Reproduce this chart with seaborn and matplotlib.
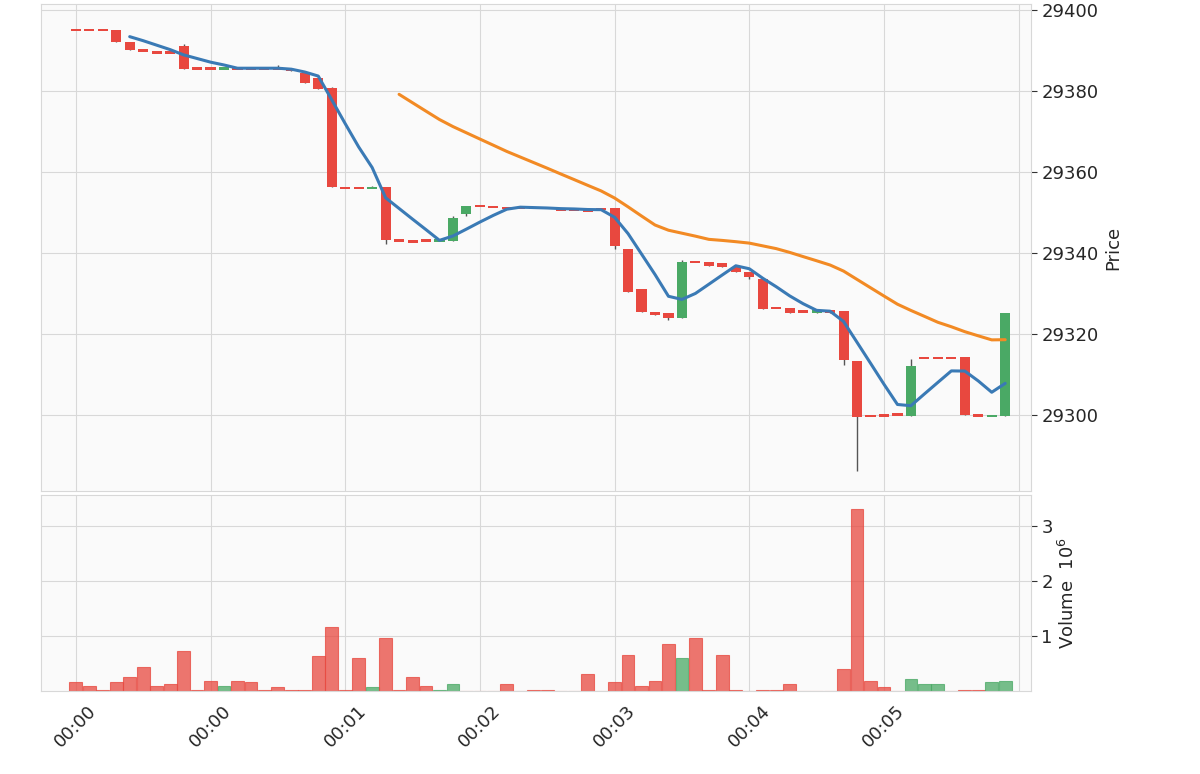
import numpy as np
import pandas as pd
import matplotlib
matplotlib.use("Agg")
import matplotlib.pyplot as plt
import seaborn as sns


# ------------------------------------------------------
# data: 5-second candles
# ------------------------------------------------------
opens = [29395, 29395, 29395, 29395, 29392, 29390, 29389.5, 29389.5, 29391, 29385.5,
         29385.5, 29385.5, 29385.5, 29385.5, 29385.5, 29385.5, 29385.5, 29384.3, 29383.2, 29380.8,
         29356, 29356, 29356, 29356.2, 29343, 29343.2, 29343, 29343, 29343, 29349.5,
         29351.5, 29351.3, 29351, 29351, 29351, 29351, 29351, 29350.6, 29350.8, 29350.8,
         29351, 29341, 29331, 29325, 29325.1, 29323.9, 29337.7, 29337.7, 29337.5, 29336.5,
         29335.2, 29333.5, 29326.3, 29326.3, 29325.5, 29325.1, 29325.8, 29325.6, 29313.3, 29299.7,
         29299.8, 29300, 29299.6, 29314, 29314, 29314, 29314.3, 29299.8, 29299.7, 29299.6]
closes = [29395, 29395, 29395, 29392, 29390, 29390, 29389.5, 29389.5, 29385.5, 29385.5,
          29385.5, 29386, 29385.5, 29385.5, 29385.5, 29385.5, 29384.8, 29382, 29380.5, 29356.2,
          29356, 29356, 29356.6, 29343.1, 29343, 29342.8, 29343, 29343.4, 29348.5, 29351.5,
          29351.5, 29351.3, 29351, 29351, 29351, 29351, 29350.5, 29350.6, 29350.3, 29350.8,
          29341.6, 29330.3, 29325.4, 29325, 29323.9, 29337.7, 29337.7, 29336.8, 29336.5, 29335.2,
          29334, 29326, 29326.3, 29325.2, 29325.5, 29325.8, 29325, 29313.5, 29299.5, 29299.7,
          29299.8, 29300, 29312, 29314, 29314, 29314, 29299.8, 29299.8, 29300, 29325]
highs = list(np.maximum(opens, closes))
lows = list(np.minimum(opens, closes))
# wicks that stick out of the bodies
high_fix = {8: 29391.6, 15: 29386.5, 19: 29381, 28: 29349, 45: 29338.2, 62: 29313.8}
low_fix = {23: 29342.1, 29: 29349, 40: 29341, 43: 29324.6, 44: 29323.5, 50: 29333.6,
           57: 29312.3, 58: 29286}

volumes = [0.16, 0.10, 0.03, 0.16, 0.25, 0.44, 0.09, 0.13, 0.72, 0.03,
           0.19, 0.10, 0.19, 0.16, 0.03, 0.07, 0.03, 0.03, 0.63, 1.16,
           0.03, 0.60, 0.07, 0.97, 0.03, 0.25, 0.09, 0.03, 0.13, 0,
           0, 0, 0.13, 0, 0.03, 0.03, 0, 0, 0.32, 0,
           0.16, 0.66, 0.09, 0.19, 0.85, 0.60, 0.97, 0.03, 0.66, 0.03,
           0, 0.03, 0.03, 0.13, 0, 0, 0, 0.40, 3.29, 0.19,
           0.07, 0, 0.22, 0.13, 0.13, 0, 0.03, 0.03, 0.16, 0.19]  # x 1e6
volume_up = [11, 22, 27, 28, 45, 62, 63, 64, 68, 69]

tick_pos = [0, 10, 20, 30, 40, 50, 60, 70]
tick_labels = ["00:00", "00:00", "00:01", "00:02", "00:03", "00:04", "00:05", ""]

UP = "#4aa965"
DOWN = "#e8483f"


def build_frame():
    df = pd.DataFrame({"open": opens, "close": closes, "high": highs,
                       "low": lows, "volume": volumes})
    for i, v in high_fix.items():
        df.loc[i, "high"] = v
    for i, v in low_fix.items():
        df.loc[i, "low"] = v
    df["idx"] = np.arange(len(df))
    df["ma5"] = df["close"].rolling(5).mean()
    df["ma25"] = df["close"].rolling(25).mean()
    return df


def plot_chart(df):
    sns.set_style("whitegrid", {"axes.facecolor": "#fafafa", "grid.color": "#d8d8d8",
                                "axes.edgecolor": "#d8d8d8"})
    plt.rcParams["font.family"] = ["DejaVu Sans"]

    fig = plt.figure(figsize=(12, 7.74), dpi=100)
    ax = fig.add_axes([0.034, 0.365, 0.825, 0.63])
    axv = fig.add_axes([0.034, 0.107, 0.825, 0.254], sharex=ax)

    up = df["close"] > df["open"]
    colors = np.where(up, UP, DOWN)
    body_lo = np.minimum(df["open"], df["close"])
    body_h = np.maximum((df["close"] - df["open"]).abs(), 0.6)

    # wicks then bodies
    ax.vlines(df["idx"], df["low"], df["high"], color="#555555", linewidth=1, zorder=2)
    ax.bar(df["idx"], body_h, bottom=body_lo - np.where(body_h == 0.6, 0.3, 0),
           width=0.75, color=colors, linewidth=0, zorder=3)

    sns.lineplot(data=df, x="idx", y="ma5", ax=ax, color="#3a7ab5", linewidth=2.2, zorder=4)
    sns.lineplot(data=df, x="idx", y="ma25", ax=ax, color="#f28a24", linewidth=2.2, zorder=4)

    ax.set_xlim(-2.6, 70.9)
    ax.set_ylim(29281, 29401.5)
    ax.set_yticks([29300, 29320, 29340, 29360, 29380, 29400])
    ax.yaxis.tick_right()
    ax.yaxis.set_label_position("right")
    ax.set_ylabel("Price", fontsize=13)
    ax.set_xlabel("")
    ax.tick_params(axis="y", labelsize=13, length=4, color="#333333")
    ax.tick_params(axis="x", labelbottom=False, length=0)

    vcol = [UP if i in volume_up else DOWN for i in df["idx"]]
    axv.bar(df["idx"], df["volume"], width=0.95, color=vcol, alpha=0.75,
            edgecolor=vcol, linewidth=0.8)
    axv.set_ylim(0, 3.56)
    axv.set_yticks([1, 2, 3])
    axv.yaxis.tick_right()
    axv.yaxis.set_label_position("right")
    axv.set_ylabel("Volume  $10^6$", fontsize=13)
    axv.tick_params(axis="y", labelsize=13, length=4, color="#333333")
    axv.set_xticks(tick_pos)
    axv.set_xticklabels(tick_labels, rotation=45, fontsize=13)
    axv.tick_params(axis="x", length=4, color="#333333")
    axv.set_xlabel("")

    fig.savefig("out.png", dpi=100)


if __name__ == "__main__":
    plot_chart(build_frame())
